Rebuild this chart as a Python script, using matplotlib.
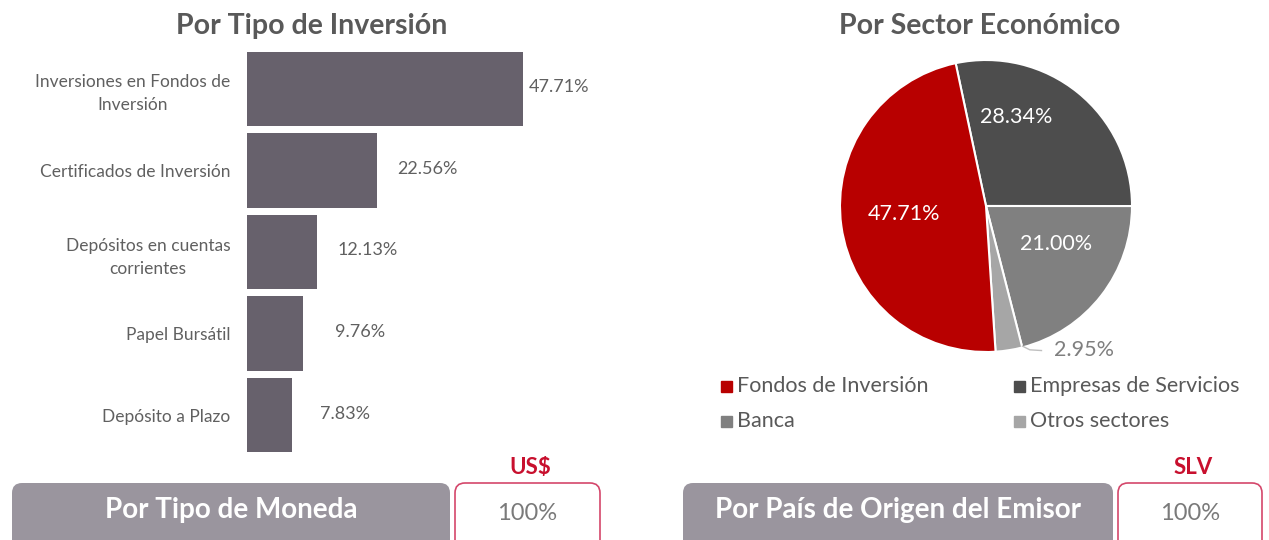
import matplotlib
matplotlib.use("Agg")
import matplotlib.pyplot as plt
from matplotlib.patches import FancyBboxPatch, Rectangle

plt.rcParams['font.family'] = ['Lato', 'DejaVu Sans']

# ---- data ----
bar_categories = ["Inversiones en Fondos de\nInversión", "Certificados de Inversión",
                  "Depósitos en cuentas\ncorrientes", "Papel Bursátil", "Depósito a Plazo"]
bar_values = [47.71, 22.56, 12.13, 9.76, 7.83]

pie_labels = ["Empresas de Servicios", "Banca", "Otros sectores", "Fondos de Inversión"]
pie_values = [28.34, 21.00, 2.95, 47.71]
pie_colors = ["#4d4d4d", "#808080", "#a6a6a6", "#b80000"]

legend_order = ["Fondos de Inversión", "Empresas de Servicios", "Banca", "Otros sectores"]

currency_label = "US$"
currency_value = "100%"
country_label = "SLV"
country_value = "100%"

W, H = 1269, 540
fig = plt.figure(figsize=(W / 100, H / 100), dpi=100)
fig.patch.set_facecolor("white")

def px_axes(x0, y0, x1, y1):
    return fig.add_axes([x0 / W, 1 - y1 / H, (x1 - x0) / W, (y1 - y0) / H])

# ---- overlay axes in pixel coordinates ----
ov = fig.add_axes([0, 0, 1, 1], zorder=0)
ov.set_xlim(0, W)
ov.set_ylim(H, 0)
ov.axis("off")

title_color = "#595959"
ov.text(312, 26, "Por Tipo de Inversión", ha="center", va="center", fontsize=20.5,
        fontweight="bold", color=title_color)
ov.text(980, 26, "Por Sector Económico", ha="center", va="center", fontsize=20.5,
        fontweight="bold", color=title_color)

# ---- bar chart ----
bar_color = "#67616c"
px_per_unit = 347 / 60
label_gap_px = [6, 20, 20, 32, 28]
axb = px_axes(247, 48, 247 + 347, 456)
ypos = list(range(len(bar_values)))
axb.barh(ypos, bar_values, height=0.91, color=bar_color)
axb.set_xlim(0, 60)
axb.set_ylim(len(bar_values) - 0.5, -0.5)
axb.set_yticks(ypos)
axb.set_yticklabels(bar_categories, fontsize=12.5, color="#606060", linespacing=1.55)
for lbl in axb.get_yticklabels():
    lbl.set_horizontalalignment("right")
    lbl.set_multialignment("center")
axb.tick_params(axis="y", length=0, pad=12)
axb.set_xticks([])
for s in axb.spines.values():
    s.set_visible(False)
for y, v, g in zip(ypos, bar_values, label_gap_px):
    axb.text(v + g / px_per_unit, y - 0.02, f"{v:.2f}%", va="center", ha="left",
             fontsize=13, color="#606060")

# ---- pie chart ----
cx, cy, r = 986, 206, 146
axp = px_axes(cx - r, cy - r, cx + r, cy + r)
wedges, _ = axp.pie(pie_values, colors=pie_colors, startangle=102, counterclock=False,
                    radius=1, wedgeprops=dict(edgecolor="white", linewidth=1.5))
axp.set_xlim(-1, 1)
axp.set_ylim(-1, 1)
axp.set_aspect("equal")
axp.axis("off")
label_pos = {
    "Empresas de Servicios": (0.205, 0.61, "white"),
    "Banca": (0.48, -0.26, "white"),
    "Fondos de Inversión": (-0.56, -0.055, "white"),
}
for name, val in zip(pie_labels, pie_values):
    if name in label_pos:
        x, y, c = label_pos[name]
        axp.text(x, y, f"{val:.2f}%", ha="center", va="center", fontsize=15.5, color=c)
    else:
        axp.text(0.67, -0.985, f"{val:.2f}%", ha="center", va="center", fontsize=15.5,
                 color="#7f7f7f", clip_on=False)
        axp.plot([0.25, 0.30, 0.38], [-0.96, -0.985, -0.99], color="#bfbfbf", lw=1,
                 clip_on=False)

# legend (manual)
leg_pos = {"Fondos de Inversión": (726, 386), "Empresas de Servicios": (1019, 386),
           "Banca": (726, 421), "Otros sectores": (1019, 421)}
for name in legend_order:
    x, y = leg_pos[name]
    col = pie_colors[pie_labels.index(name)]
    ov.add_patch(Rectangle((x - 5.5, y - 5.5), 11, 11, color=col))
    ov.text(x + 11, y, name, ha="left", va="center", fontsize=15.5, color="#595959")

# ---- bottom boxes ----
box_grey = "#9a959e"
border = "#d4476b"
def grey_box(x0, x1, text):
    ov.add_patch(FancyBboxPatch((x0, 483), x1 - x0, 75, boxstyle="round,pad=0,rounding_size=10",
                                facecolor=box_grey, edgecolor="none"))
    ov.text((x0 + x1) / 2, 510, text, ha="center", va="center", fontsize=20,
            fontweight="bold", color="white")

def value_box(x0, x1, label, value):
    ov.add_patch(FancyBboxPatch((x0, 483), x1 - x0, 75, boxstyle="round,pad=0,rounding_size=10",
                                facecolor="white", edgecolor=border, linewidth=1.2))
    ov.text((x0 + x1) / 2, 514, value, ha="center", va="center", fontsize=17, color="#7a7a7a")
    ov.text((x0 + x1) / 2 + 3, 467, label, ha="center", va="center", fontsize=16,
            fontweight="bold", color="#c8102e")

grey_box(12, 450, "Por Tipo de Moneda")
value_box(455, 600, currency_label, currency_value)
grey_box(683, 1113, "Por País de Origen del Emisor")
value_box(1118, 1262, country_label, country_value)

fig.savefig("out.png", dpi=100, facecolor="white")
